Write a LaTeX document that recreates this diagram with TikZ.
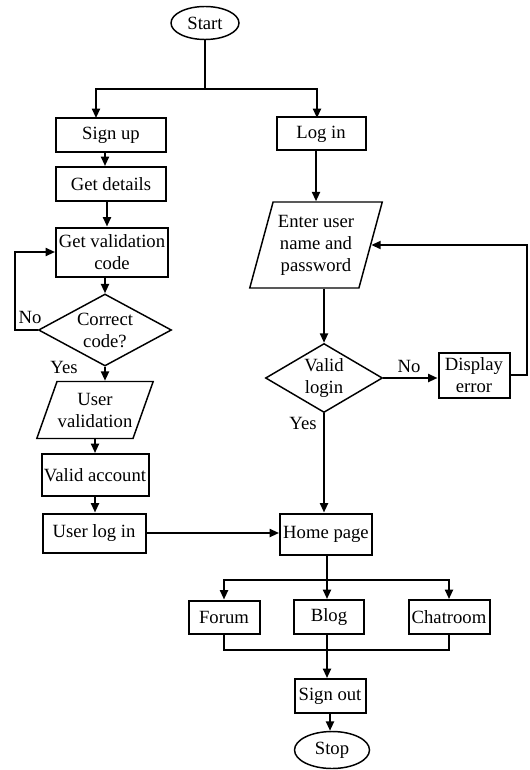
\documentclass[tikz,border=0pt]{standalone}
\usepackage{fontspec}
\setmainfont{Liberation Serif}
\usetikzlibrary{shapes.geometric,arrows.meta,calc}
\begin{document}
\begin{tikzpicture}[x=0.75pt,y=-0.75pt,
  every node/.style={font=\fontsize{14}{16.5}\selectfont, inner sep=0pt, align=center},
  box/.style={draw, line width=1.5pt, rectangle},
  term/.style={draw, line width=1.1pt, ellipse},
  dec/.style={draw, line width=1.1pt, diamond},
  io/.style={draw, line width=1.1pt, trapezium, trapezium left angle=60, trapezium right angle=120, trapezium stretches=true},
  arr/.style={line width=1.4pt, -{Triangle[length=7pt,width=6pt]}},
  ln/.style={line width=1.4pt}]
\useasboundingbox (0,0) rectangle (529,770);

% nodes
\node[term, minimum width=51pt, minimum height=24.75pt] (start) at (205,23) {Start};
\node[box, minimum width=82.5pt, minimum height=25.5pt] (signup) at (111,135) {Sign up};
\node[box, minimum width=66.75pt, minimum height=24.75pt] (login) at (321,134) {Log in};
\node[box, minimum width=82.5pt, minimum height=25.5pt] (details) at (111,184) {Get details};
\node[box, minimum width=84pt, minimum height=36.75pt] (valcode) at (112,252) {Get validation\\code};
\node[dec, aspect=1.85, minimum width=99.75pt, minimum height=54pt] (correct) at (105,330) {Correct\\code?};
\node[io, minimum width=87.75pt, minimum height=42.75pt] (uval) at (95,410) {User\\validation};
\node[box, minimum width=80.25pt, minimum height=31.5pt] (vacc) at (95,475) {Valid account};
\node[box, minimum width=77.25pt, minimum height=29.25pt] (ulog) at (94,533) {User log in};
\node[io, trapezium left angle=71, trapezium right angle=109, minimum width=99.75pt, minimum height=64.5pt] (enter) at (316,245) {Enter user\\name and\\password};
\node[dec, aspect=1.7, minimum width=87.75pt, minimum height=51.75pt] (vlogin) at (324,378) {Valid\\login};
\node[box, minimum width=53.25pt, minimum height=33.75pt] (derr) at (474,375) {Display\\error};
\node[box, minimum width=69pt, minimum height=30.75pt] (home) at (326,534) {Home page};
\node[box, minimum width=53.25pt, minimum height=24.75pt] (forum) at (224,617) {Forum};
\node[box, minimum width=52.5pt, minimum height=25.5pt] (blog) at (329,617) {Blog};
\node[box, minimum width=60.75pt, minimum height=25.5pt] (chat) at (449,617) {Chatroom};
\node[box, minimum width=53.25pt, minimum height=25.5pt] (sout) at (330,696) {Sign out};
\node[term, minimum width=56.25pt, minimum height=27.75pt] (stop) at (332,750) {Stop};

% labels
\node (no1) at (30,317) {No};
\node (yes1) at (64,367) {Yes};
\node (no2) at (409,366) {No};
\node (yes2) at (303,423) {Yes};

% junctions
\coordinate (j1) at (205,89);
\coordinate (s1) at (96,118);
\coordinate (s2) at (317,118);
\coordinate (a1) at (105,152);
\coordinate (a2) at (107,201);
\coordinate (lp) at (15,300);
\coordinate (r2) at (527,245);
\coordinate (j2) at (327,580);
\coordinate (j3) at (327,650);

% connectors
\draw[ln] (start.south) -- (j1);
\draw[arr] (j1) -| (s1);
\draw[arr] (j1) -| (s2);
\draw[arr] (a1) -- (a1 |- details.north);
\draw[arr] (a2) -- (a2 |- valcode.north);
\draw[arr] (correct.north |- valcode.south) -- (correct.north);
\draw[arr] (correct.west) -| (lp) |- (valcode.west);
\draw[arr] (correct.south) -- (correct.south |- uval.north);
\draw[arr] (uval.south) -- (uval.south |- vacc.north);
\draw[arr] (vacc.south) -- (vacc.south |- ulog.north);
\draw[arr] (ulog.east) -- (ulog.east -| home.west);
\draw[arr] (enter.north |- login.south) -- (enter.north);
\draw[arr] (vlogin.north |- enter.south) -- (vlogin.north);
\draw[arr] (vlogin.east) -- (vlogin.east -| derr.west);
\draw[arr] (derr.east) -| (r2) -- (enter.east);
\draw[arr] (vlogin.south) -- (vlogin.south |- home.north);
\draw[ln] (j2 |- home.south) -- (j2);
\draw[arr] (j2) -| (forum.north);
\draw[arr] (j2) -| (chat.north);
\draw[arr] (j2) -- (j2 |- blog.north);
\draw[ln] (forum.south) |- (chat.south |- j3) -- (chat.south);
\draw[arr] (j3 |- blog.south) -- (j3 |- sout.north);
\draw[arr] (sout.south) -- (sout.south |- stop.north);
\end{tikzpicture}
\end{document}
